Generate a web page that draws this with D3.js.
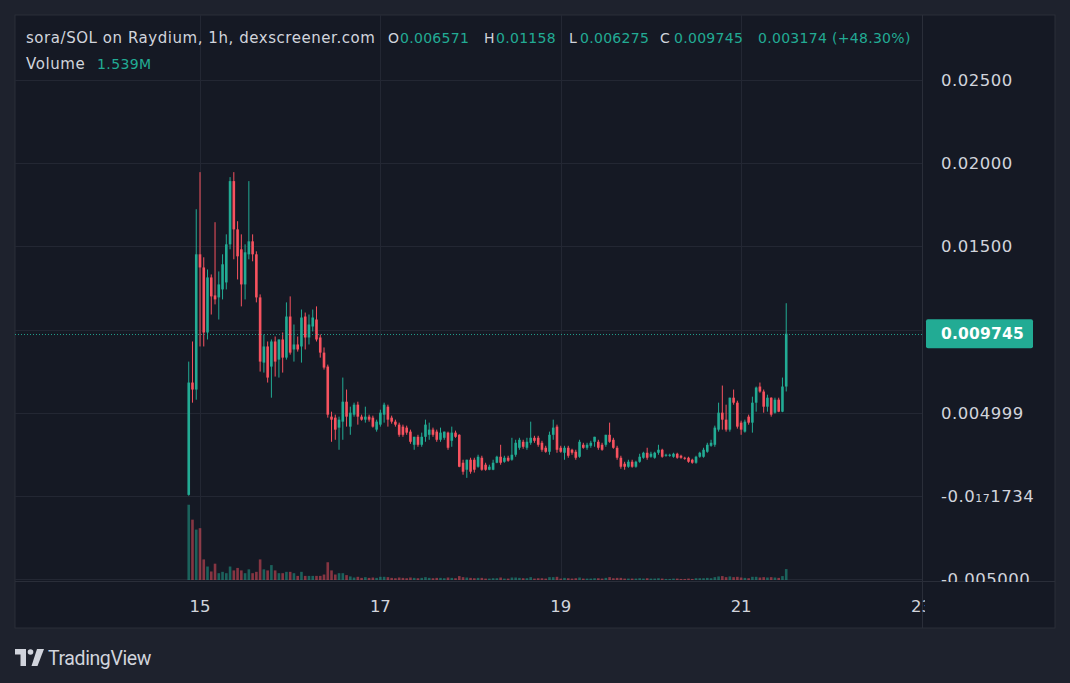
<!DOCTYPE html>
<html><head><meta charset="utf-8">
<script src="https://cdn.jsdelivr.net/npm/d3@7"></script>
<style>
html,body{margin:0;padding:0;background:#1e222d;}
svg{display:block;}
</style></head>
<body><svg id="c" width="1070" height="683"></svg>
<script>
// ---------- DATA ----------
const startTime = "2024-05-14T21:00"; // first hourly candle
const intervalHours = 1;
const opens = [0.00006,0.00681,0.00639,0.01452,0.01373,0.00982,0.01313,0.01205,0.01193,0.01241,
0.01283,0.01512,0.01892,0.01602,0.01482,0.01271,0.01452,0.01530,0.01452,0.01193,
0.00801,0.00898,0.00777,0.00928,0.00819,0.00940,0.00831,0.01078,0.00880,0.00910,
0.00898,0.01078,0.00952,0.01018,0.01060,0.00952,0.00861,0.00777,0.00476,0.00470,
0.00410,0.00446,0.00566,0.00416,0.00488,0.00548,0.00476,0.00458,0.00476,0.00470,
0.00398,0.00428,0.00488,0.00536,0.00470,0.00446,0.00428,0.00416,0.00410,0.00386,
0.00307,0.00355,0.00307,0.00355,0.00367,0.00398,0.00386,0.00337,0.00349,0.00380,
0.00331,0.00380,0.00367,0.00199,0.00157,0.00217,0.00217,0.00175,0.00229,0.00187,
0.00157,0.00157,0.00199,0.00235,0.00205,0.00229,0.00217,0.00247,0.00289,0.00325,
0.00289,0.00319,0.00349,0.00349,0.00319,0.00289,0.00265,0.00367,0.00416,0.00289,
0.00259,0.00289,0.00277,0.00265,0.00235,0.00307,0.00289,0.00301,0.00325,0.00325,
0.00307,0.00307,0.00367,0.00337,0.00289,0.00229,0.00193,0.00175,0.00205,0.00175,
0.00205,0.00229,0.00259,0.00235,0.00229,0.00259,0.00277,0.00241,0.00241,0.00235,
0.00253,0.00241,0.00229,0.00229,0.00217,0.00199,0.00235,0.00235,0.00265,0.00301,
0.00307,0.00398,0.00500,0.00458,0.00398,0.00590,0.00560,0.00440,0.00386,0.00476,
0.00440,0.00560,0.00657,0.00627,0.00536,0.00590,0.00500,0.00578,0.00506,0.006571];
const highs = [0.00807,0.00928,0.01723,0.01946,0.01434,0.01361,0.01331,0.01645,0.01349,0.01452,
0.01572,0.01916,0.01946,0.01651,0.01572,0.01512,0.01892,0.01572,0.01470,0.01211,
0.00970,0.00928,0.00940,0.00958,0.00940,0.00982,0.01163,0.01199,0.01030,0.00958,
0.01120,0.01102,0.01090,0.01120,0.01139,0.00970,0.00892,0.00789,0.00506,0.00488,
0.00476,0.00711,0.00639,0.00536,0.00560,0.00566,0.00488,0.00536,0.00488,0.00482,
0.00458,0.00518,0.00560,0.00548,0.00482,0.00458,0.00440,0.00428,0.00422,0.00398,
0.00355,0.00367,0.00380,0.00458,0.00440,0.00410,0.00398,0.00410,0.00386,0.00386,
0.00416,0.00392,0.00370,0.00217,0.00217,0.00229,0.00229,0.00247,0.00241,0.00199,
0.00187,0.00217,0.00241,0.00307,0.00241,0.00241,0.00349,0.00337,0.00349,0.00337,
0.00349,0.00446,0.00361,0.00361,0.00331,0.00301,0.00386,0.00458,0.00428,0.00301,
0.00301,0.00301,0.00283,0.00277,0.00337,0.00319,0.00319,0.00331,0.00355,0.00337,
0.00319,0.00367,0.00440,0.00349,0.00301,0.00241,0.00205,0.00217,0.00217,0.00211,
0.00253,0.00265,0.00289,0.00265,0.00265,0.00307,0.00283,0.00253,0.00253,0.00259,
0.00259,0.00247,0.00235,0.00235,0.00223,0.00241,0.00265,0.00289,0.00319,0.00337,
0.00422,0.00560,0.00663,0.00548,0.00590,0.00639,0.00572,0.00452,0.00458,0.00488,
0.00596,0.00657,0.00681,0.00639,0.00608,0.00592,0.00590,0.00590,0.00711,0.01158];
const lows = [0.00001,0.00560,0.00578,0.00898,0.00898,0.00940,0.01090,0.01151,0.01060,0.01181,
0.01241,0.01482,0.01422,0.01301,0.01139,0.01181,0.01422,0.01410,0.01163,0.00747,
0.00741,0.00681,0.00590,0.00717,0.00711,0.00741,0.00819,0.00849,0.00807,0.00867,
0.00801,0.00880,0.00910,0.00988,0.00928,0.00831,0.00759,0.00470,0.00325,0.00337,
0.00277,0.00337,0.00416,0.00367,0.00476,0.00428,0.00452,0.00440,0.00446,0.00410,
0.00386,0.00416,0.00440,0.00416,0.00434,0.00416,0.00355,0.00355,0.00367,0.00313,
0.00277,0.00295,0.00295,0.00325,0.00337,0.00355,0.00325,0.00325,0.00337,0.00277,
0.00295,0.00349,0.00172,0.00127,0.00108,0.00133,0.00140,0.00169,0.00151,0.00151,
0.00154,0.00154,0.00196,0.00187,0.00199,0.00205,0.00211,0.00235,0.00277,0.00283,
0.00277,0.00307,0.00319,0.00295,0.00265,0.00259,0.00247,0.00337,0.00259,0.00259,
0.00217,0.00229,0.00247,0.00217,0.00229,0.00283,0.00277,0.00289,0.00295,0.00277,
0.00271,0.00295,0.00319,0.00283,0.00217,0.00163,0.00157,0.00169,0.00169,0.00169,
0.00199,0.00223,0.00217,0.00229,0.00223,0.00247,0.00229,0.00235,0.00235,0.00229,
0.00223,0.00223,0.00217,0.00199,0.00193,0.00193,0.00229,0.00229,0.00259,0.00295,
0.00295,0.00386,0.00398,0.00386,0.00386,0.00548,0.00404,0.00367,0.00380,0.00428,
0.00380,0.00506,0.00620,0.00500,0.00506,0.00476,0.00494,0.00503,0.00503,0.006275];
const closes = [0.00681,0.00639,0.01452,0.01373,0.00982,0.01313,0.01199,0.01181,0.01271,0.01392,
0.01512,0.01892,0.01602,0.01440,0.01271,0.01464,0.01530,0.01452,0.01193,0.00807,
0.00898,0.00711,0.00928,0.00807,0.00940,0.00831,0.01078,0.00861,0.00910,0.00880,
0.01072,0.00952,0.01030,0.01072,0.00940,0.00861,0.00771,0.00488,0.00458,0.00398,
0.00458,0.00566,0.00476,0.00500,0.00548,0.00476,0.00458,0.00476,0.00458,0.00416,
0.00446,0.00500,0.00548,0.00458,0.00446,0.00428,0.00367,0.00367,0.00380,0.00325,
0.00355,0.00307,0.00355,0.00428,0.00398,0.00367,0.00337,0.00380,0.00386,0.00289,
0.00380,0.00355,0.00175,0.00145,0.00217,0.00145,0.00157,0.00235,0.00157,0.00157,
0.00175,0.00199,0.00235,0.00199,0.00229,0.00211,0.00247,0.00319,0.00337,0.00295,
0.00325,0.00349,0.00331,0.00307,0.00277,0.00265,0.00367,0.00410,0.00277,0.00265,
0.00289,0.00241,0.00259,0.00229,0.00325,0.00289,0.00307,0.00319,0.00355,0.00289,
0.00277,0.00367,0.00325,0.00289,0.00229,0.00175,0.00175,0.00205,0.00175,0.00205,
0.00235,0.00259,0.00229,0.00253,0.00259,0.00277,0.00235,0.00247,0.00247,0.00253,
0.00229,0.00229,0.00223,0.00205,0.00199,0.00235,0.00259,0.00277,0.00307,0.00319,
0.00410,0.00500,0.00458,0.00398,0.00590,0.00560,0.00416,0.00398,0.00446,0.00440,
0.00560,0.00651,0.00627,0.00536,0.00590,0.00488,0.00578,0.00506,0.00657,0.009745];
const volumes = [10.6,8.5,7.1,7.3,2.9,1.9,1.2,2.3,0.96,1.15,
0.96,1.9,1.35,1.7,1.35,0.96,1.5,0.96,1.15,2.9,
1.5,1.35,2.1,1.35,0.96,0.96,1.15,1.15,0.96,0.58,
1.15,0.58,0.58,0.58,0.58,0.58,0.77,2.5,1.35,0.77,
0.96,0.96,0.69,0.50,0.35,0.45,0.30,0.40,0.30,0.35,
0.30,0.45,0.45,0.40,0.30,0.25,0.35,0.30,0.25,0.35,
0.30,0.25,0.30,0.40,0.30,0.25,0.30,0.30,0.25,0.35,
0.30,0.25,0.55,0.40,0.35,0.30,0.25,0.30,0.30,0.20,
0.20,0.25,0.25,0.35,0.20,0.20,0.35,0.35,0.30,0.25,
0.25,0.40,0.20,0.25,0.25,0.20,0.40,0.40,0.45,0.20,
0.30,0.25,0.20,0.25,0.35,0.20,0.20,0.20,0.25,0.25,
0.20,0.30,0.40,0.25,0.30,0.30,0.20,0.20,0.20,0.20,
0.25,0.20,0.25,0.20,0.20,0.25,0.20,0.15,0.15,0.20,
0.20,0.15,0.15,0.20,0.15,0.25,0.25,0.25,0.30,0.25,
0.40,0.50,0.55,0.40,0.50,0.40,0.45,0.35,0.30,0.25,
0.45,0.45,0.35,0.40,0.35,0.40,0.35,0.30,0.55,1.539]; // millions

const priceTicks = [0.025, 0.02, 0.015, 0.01, 0.004999, -0.0000001734, -0.005];
const priceTickLabels = [["0.02500"],["0.02000"],["0.01500"],[""],["0.004999"],["-0.0","17","1734"],["-0.005000"]];
const timeTicks = ["2024-05-15T00:00","2024-05-17T00:00","2024-05-19T00:00","2024-05-21T00:00","2024-05-23T00:00"];
const timeTickLabels = ["15","17","19","21","23"];

const titleText = "sora/SOL on Raydium, 1h, dexscreener.com";
const ohlcKeys = ["O","H","L","C"];
const ohlcValues = ["0.006571","0.01158","0.006275","0.009745"];
const changeText = "0.003174 (+48.30%)";
const volumeLabel = "Volume";
const volumeValue = "1.539M";
const lastPrice = 0.009745;
const lastPriceLabel = "0.009745";

// ---------- LAYOUT ----------
const UP = "#22ab94", DOWN = "#f7525f";
const TEXT = "#d1d4dc";
const pane = {l:15, r:922, t:15, b:580};
const svg = d3.select("#c");
const parse = d3.timeParse("%Y-%m-%dT%H:%M");
const t0 = parse(startTime);
const times = opens.map((_, i) => d3.timeHour.offset(t0, i*intervalHours));

const x = d3.scaleTime().domain([parse(timeTicks[0]), parse(timeTicks[4])]).range([200, 921.5]);
const y = d3.scaleLinear().domain([-0.005, 0.025]).range([579, 80]);
const yv = d3.scaleLinear().domain([0, 10]).range([580, 509]);

// backgrounds
svg.append("rect").attr("width",1070).attr("height",683).attr("fill","#1e222d");
svg.append("rect").attr("x",pane.l).attr("y",pane.t).attr("width",1055-pane.l).attr("height",628-pane.t)
  .attr("fill","#151924").attr("stroke","#2a2e39").attr("stroke-width",1);

const defs = svg.append("defs");
defs.append("clipPath").attr("id","clipPane").append("rect")
  .attr("x",pane.l).attr("y",pane.t).attr("width",pane.r-pane.l).attr("height",pane.b-pane.t);
defs.append("clipPath").attr("id","clipAxis").append("rect")
  .attr("x",pane.r).attr("y",pane.t).attr("width",1055-pane.r).attr("height",582-pane.t);
defs.append("clipPath").attr("id","clipTime").append("rect")
  .attr("x",pane.l).attr("y",582).attr("width",pane.r+3-pane.l).attr("height",46);

const g = svg.append("g").attr("clip-path","url(#clipPane)");

// grid
g.selectAll("line.hg").data(priceTicks).join("line")
  .attr("x1",pane.l).attr("x2",pane.r)
  .attr("y1",d=>Math.round(y(d))+0.5).attr("y2",d=>Math.round(y(d))+0.5)
  .attr("stroke","#232733").attr("stroke-width",1);
g.selectAll("line.vg").data(timeTicks).join("line")
  .attr("y1",pane.t).attr("y2",pane.b)
  .attr("x1",d=>Math.round(x(parse(d)))+0.5).attr("x2",d=>Math.round(x(parse(d)))+0.5)
  .attr("stroke","#232733").attr("stroke-width",1);

// volume
const bw = 2.6;
g.selectAll("rect.vol").data(volumes).join("rect")
  .attr("x",(d,i)=>x(times[i])-bw/2).attr("width",bw)
  .attr("y",d=>yv(d)).attr("height",d=>yv(0)-yv(d))
  .attr("fill",(d,i)=>closes[i]>=opens[i]?UP:DOWN).attr("opacity",0.5);

// candles
const cg = g.selectAll("g.c").data(opens).join("g");
cg.append("line")
  .attr("x1",(d,i)=>x(times[i])).attr("x2",(d,i)=>x(times[i]))
  .attr("y1",(d,i)=>y(highs[i])).attr("y2",(d,i)=>y(lows[i]))
  .attr("stroke",(d,i)=>closes[i]>=opens[i]?UP:DOWN).attr("stroke-width",1);
cg.append("rect")
  .attr("x",(d,i)=>x(times[i])-bw/2).attr("width",bw)
  .attr("y",(d,i)=>y(Math.max(opens[i],closes[i])))
  .attr("height",(d,i)=>Math.max(1,Math.abs(y(opens[i])-y(closes[i]))))
  .attr("fill",(d,i)=>closes[i]>=opens[i]?UP:DOWN);

// last price dotted line
g.append("line").attr("x1",pane.l).attr("x2",pane.r)
  .attr("y1",Math.round(y(lastPrice))+0.5).attr("y2",Math.round(y(lastPrice))+0.5)
  .attr("stroke",UP).attr("stroke-width",1).attr("stroke-dasharray","1,2").attr("opacity",0.9);

// pane separators
svg.append("line").attr("x1",pane.r+0.5).attr("x2",pane.r+0.5).attr("y1",pane.t).attr("y2",628).attr("stroke","#2a2e39");
svg.append("line").attr("x1",pane.l).attr("x2",1055).attr("y1",581.5).attr("y2",581.5).attr("stroke","#2a2e39");

// header legend
const FONT = "'DejaVu Sans', sans-serif";
const hdr = svg.append("g").attr("font-family",FONT).attr("font-size",14);
hdr.append("text").attr("x",26).attr("y",43).attr("fill",TEXT).attr("font-size",15).attr("letter-spacing",0.55).text(titleText);
const keyX = [388, 484, 569, 660];
const valX = [400, 496, 580, 674];
ohlcKeys.forEach((k,i)=>{
  hdr.append("text").attr("x",keyX[i]).attr("y",43).attr("fill",TEXT).text(k);
  hdr.append("text").attr("x",valX[i]).attr("y",43).attr("fill",UP).attr("letter-spacing",0.3).text(ohlcValues[i]);
});
hdr.append("text").attr("x",758).attr("y",43).attr("fill",UP).attr("letter-spacing",0.3).text(changeText);
hdr.append("text").attr("x",26).attr("y",69).attr("fill",TEXT).attr("font-size",15).attr("letter-spacing",0.6).text(volumeLabel);
hdr.append("text").attr("x",97).attr("y",69).attr("fill",UP).attr("letter-spacing",0.4).text(volumeValue);

// price axis
const ax = svg.append("g").attr("clip-path","url(#clipAxis)").attr("font-family",FONT).attr("font-size",16.5).attr("letter-spacing",0.5).attr("fill",TEXT);
priceTicks.forEach((v,i)=>{
  const parts = priceTickLabels[i];
  if(!parts[0]) return;
  const t = ax.append("text").attr("x",941).attr("y",y(v)).attr("dy","0.36em");
  if(parts.length===1){ t.text(parts[0]); }
  else {
    t.append("tspan").text(parts[0]);
    t.append("tspan").attr("font-size",11).text(parts[1]);
    t.append("tspan").text(parts[2]);
  }
});
// last price tag
const ly = y(lastPrice);
ax.append("rect").attr("x",926).attr("y",ly-14.5).attr("width",107).attr("height",29).attr("rx",2).attr("fill",UP);
ax.append("text").attr("x",941).attr("y",ly).attr("dy","0.36em").attr("fill","#ffffff").attr("font-weight","bold")
  .attr("font-size",15.5).attr("letter-spacing",0.2).text(lastPriceLabel);

// time axis
const tx = svg.append("g").attr("clip-path","url(#clipTime)").attr("font-family",FONT).attr("font-size",16.5).attr("fill",TEXT);
timeTicks.forEach((d,i)=>{
  tx.append("text").attr("x",x(parse(d))).attr("y",612).attr("text-anchor","middle").text(timeTickLabels[i]);
});

// TradingView logo
const lg = svg.append("g").attr("fill","#d1d4dc");
lg.append("path").attr("d","M15 649 H26 V666 H20.5 V654.5 H15 Z");
lg.append("circle").attr("cx",30.5).attr("cy",652).attr("r",2.8);
lg.append("path").attr("d","M37 649 H44 L37.5 666 H31.5 Z");
lg.append("text").attr("x",48).attr("y",665).attr("font-family","Roboto, sans-serif").attr("font-size",19.5)
  .attr("letter-spacing","-0.4").text("TradingView");
</script>
</body></html>
